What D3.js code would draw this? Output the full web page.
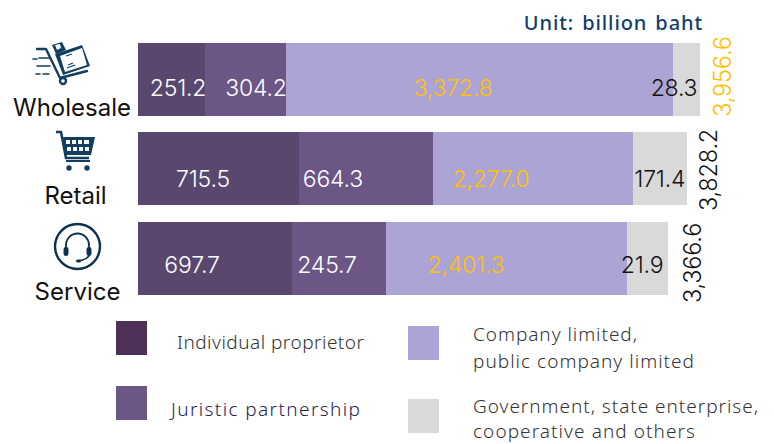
<!DOCTYPE html>
<html><head><meta charset="utf-8">
<script src="https://cdnjs.cloudflare.com/ajax/libs/d3/7.8.5/d3.min.js"></script>
<style>html,body{margin:0;padding:0;background:#fff}svg{display:block}</style></head>
<body><svg id="c" width="774" height="444"></svg>
<script>
// Printed figures (billion baht), exactly as labelled in the reference
const categories = ["Wholesale", "Retail", "Service"];
const seriesNames = ["Individual proprietor", "Juristic partnership", "Company limited, public company limited", "Government, state enterprise, cooperative and others"];
const individual = [251.2, 715.5, 697.7];
const juristic = [304.2, 664.3, 245.7];
const company = [3372.8, 2277.0, 2401.3];
const government = [28.3, 171.4, 21.9];
const totals = [3956.6, 3828.2, 3366.6];
// The reference's segment lengths are not proportional to its printed figures,
// so the lengths as drawn are read off the picture separately, in the same units.
const drawnIndividual = [472, 1133, 1084];
const drawnJuristic = [570, 943, 662];
const drawnCompany = [2725, 1408, 1697];
const drawnGovernment = [190, 380, 289];

const fmt = d3.format(",.1f");
const svg = d3.select("#c");
const numFont = "Inter, sans-serif";
const legFont = "'Noto Sans', sans-serif";
const colors = ["#5a476d", "#6b5685", "#ada4d6", "#d9d9d9"];
const legendColors = ["#4d3158", "#6b5685", "#ada4d6", "#d9d9d9"];
const labelColors = ["#fff", "#fff", "#ffc000", "#111"];

const printed = [individual, juristic, company, government];
const drawn = [drawnIndividual, drawnJuristic, drawnCompany, drawnGovernment];
const x = d3.scaleLinear().domain([0, 3957]).range([138, 700]);
const rowTop = d3.scaleOrdinal().domain(categories).range([43, 132, 222]);
const barH = 73;

// label offsets from segment centres, rows by series
const labelDx = [[6.5, 10.5, -26.5, -12.5], [-15.5, -33, -42, 0], [-23, -12, -40.5, -5.5]];
const baselines = [96, 187, 273];

categories.forEach((cat, r) => {
  let acc = 0;
  drawn.forEach((s, i) => {
    const x0 = Math.round(x(acc)), x1 = Math.round(x(acc + s[r]));
    acc += s[r];
    svg.append("rect").attr("x", x0).attr("y", rowTop(cat)).attr("width", x1 - x0).attr("height", barH).attr("fill", colors[i]);
  });
});
categories.forEach((cat, r) => {
  let acc = 0;
  drawn.forEach((s, i) => {
    const x0 = x(acc), x1 = x(acc + s[r]);
    acc += s[r];
    svg.append("text").attr("x", (x0 + x1) / 2 + labelDx[r][i]).attr("y", baselines[r])
      .attr("text-anchor", "middle").attr("font-family", numFont).attr("font-weight", 300)
      .attr("font-size", 23).attr("letter-spacing", -0.2).attr("fill", labelColors[i]).text(fmt(printed[i][r]));
  });
});

// totals
const totalPos = [[731, 76.5, "#ffc000"], [717, 170, "#111"], [701, 263, "#111"]];
totals.forEach((t, r) => {
  const [tx, ty, c] = totalPos[r];
  svg.append("text").attr("transform", `translate(${tx},${ty}) rotate(-90)`).attr("text-anchor", "middle")
    .attr("font-family", numFont).attr("font-weight", 300).attr("font-size", 23.5).attr("letter-spacing", -0.2)
    .attr("fill", c).text(fmt(t));
});

// category labels
const catPos = [[72, 116], [75.5, 204], [77.5, 300]];
categories.forEach((c, r) => {
  svg.append("text").attr("x", catPos[r][0]).attr("y", catPos[r][1]).attr("text-anchor", "middle")
    .attr("font-family", numFont).attr("font-weight", 400).attr("font-size", 24).attr("fill", "#111").text(c);
});

// unit
svg.append("text").attr("x", 703).attr("y", 30).attr("text-anchor", "end").attr("font-family", legFont)
  .attr("font-weight", 500).attr("font-size", 20).attr("letter-spacing", 0.9).attr("word-spacing", 2).attr("fill", "#123e6b").text("Unit: billion baht");

// legend
const legendBoxes = [[116, 321], [116, 386], [408, 326], [408, 399]];
legendBoxes.forEach((b, i) => svg.append("rect").attr("x", b[0]).attr("y", b[1]).attr("width", 31).attr("height", 34).attr("fill", legendColors[i]));
const legendText = [
  [177, 349, "Individual proprietor", "#333", 187],
  [171, 416, "Juristic partnership", "#1f2350", 189],
  [473, 341, "Company limited,", "#333", 164],
  [473, 368, "public company limited", "#333", 221],
  [473, 413, "Government, state enterprise,", "#333", 285],
  [473, 437.5, "cooperative and others", "#333", 222]
];
legendText.forEach(d => svg.append("text").attr("x", d[0]).attr("y", d[1]).attr("font-family", legFont)
  .attr("font-weight", 300).attr("font-size", 19).attr("textLength", d[4]).attr("lengthAdjust", "spacing").attr("fill", d[3]).text(d[2]));

// icons
const navy = "#123e5f";
const g1 = svg.append("g").attr("fill", "none").attr("stroke", navy).attr("stroke-width", 2.4).attr("stroke-linecap", "round").attr("stroke-linejoin", "round");
g1.append("path").attr("d", "M37 49 H46 L60 78 L87 71");
g1.append("circle").attr("cx", 63).attr("cy", 81).attr("r", 3);
g1.append("path").attr("d", "M33 59 H37 M39 58 H50 M37 66 H50 M36 74 H40 M43 74 H49").attr("stroke-width", 1.6);
svg.append("path").attr("fill", navy).attr("d", "M55 54 L82 45 L90 66 L63 75 Z");
svg.append("path").attr("fill", navy).attr("d", "M52 45 L62 42 L66 50 L56 54 Z");
svg.append("path").attr("fill", "#fff").attr("d", "M55 45 L60 44 L61 48 L57 50 Z M60 56 L82 48 L87 65 L65 72 Z");
svg.append("path").attr("stroke", navy).attr("stroke-width", 1.2).attr("d", "M67 68 L75 65 M68 65 L73 63 M66 56 L72 54");

const g2 = svg.append("g").attr("fill", navy).attr("stroke", navy);
g2.append("path").attr("fill", "none").attr("stroke-width", 2.6).attr("d", "M56 132 H61 L66 158 H89");
g2.append("path").attr("fill", navy).attr("stroke", "none").attr("fill-rule", "evenodd")
  .attr("d", "M63 137 H95 L91 155 H66 Z M66 140 V144 H70 V140 Z M72 140 V144 H76 V140 Z M78 140 V144 H82 V140 Z M84 140 V144 H89 V140 Z M67 147 V151 H71 V147 Z M73 147 V151 H77 V147 Z M79 147 V151 H83 V147 Z M85 147 V151 H89 V147 Z");
g2.append("circle").attr("cx", 69).attr("cy", 168).attr("r", 2.7).attr("stroke", "none");
g2.append("circle").attr("cx", 87).attr("cy", 168).attr("r", 2.7).attr("stroke", "none");
g2.append("path").attr("fill", "none").attr("stroke-width", 2).attr("d", "M66 161 H90");

const g3 = svg.append("g").attr("fill", "none").attr("stroke", "#0f3150");
g3.append("circle").attr("cx", 77.5).attr("cy", 246.5).attr("r", 22.5).attr("stroke-width", 2.4);
g3.append("path").attr("stroke-width", 1.8).attr("d", "M66 250 V245 A11.5 11.5 0 0 1 89 245 V250");
g3.append("path").attr("stroke-width", 1.6).attr("d", "M90 254 Q88 260 77 261");
g3.append("rect").attr("x", 63.5).attr("y", 247).attr("width", 5).attr("height", 9).attr("rx", 2.4).attr("fill", "#0f3150").attr("stroke", "none");
g3.append("rect").attr("x", 86.5).attr("y", 247).attr("width", 5).attr("height", 9).attr("rx", 2.4).attr("fill", "#0f3150").attr("stroke", "none");
g3.append("rect").attr("x", 76).attr("y", 259.5).attr("width", 5).attr("height", 3).attr("rx", 1.5).attr("fill", "#0f3150").attr("stroke", "none");
</script></body></html>
